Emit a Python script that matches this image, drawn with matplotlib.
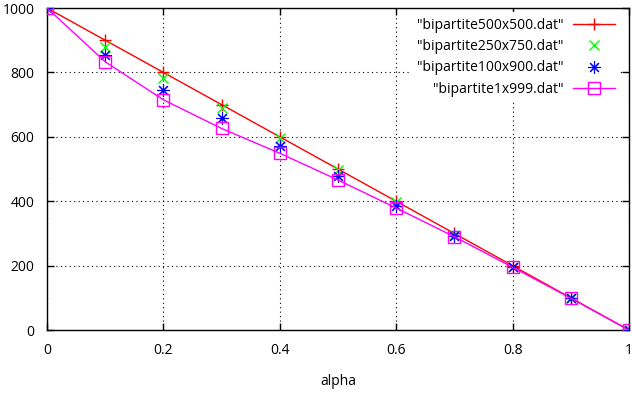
import matplotlib
matplotlib.use("Agg")
import matplotlib.pyplot as plt

# Data.
alpha = [0.0, 0.1, 0.2, 0.3, 0.4, 0.5, 0.6, 0.7, 0.8, 0.9, 1.0]
b500x500 = [1000, 900, 800, 700, 600, 500, 400, 300, 200, 100, 0]
b250x750 = [1000, 880, 782, 689, 596, 497, 398, 296, 197, 99, 0]
b100x900 = [1000, 853, 745, 658, 573, 478, 385, 293, 196, 99, 0]
b1x999 = [1000, 833, 715, 626, 549, 466, 379, 290, 195, 99, 0]

plt.rcParams.update({
    "font.family": ["Open Sans", "DejaVu Sans"],
    "font.size": 10,
})

fig = plt.figure(figsize=(6.32, 3.93), dpi=100)
ax = fig.add_axes([0.0744, 0.160, 0.9209, 0.8196])

ax.plot(alpha, b500x500, color="#ff0000", lw=1, marker="+", ms=9, mew=1,
        label='"bipartite500x500.dat"', zorder=3)
ax.plot(alpha, b250x750, color="#00ff00", lw=0, marker="x", ms=7, mew=1,
        label='"bipartite250x750.dat"', zorder=3)
ax.plot(alpha, b100x900, color="#0000ff", lw=0, marker=(8, 2, 0), ms=9, mew=0.8,
        label='"bipartite100x900.dat"', zorder=3)
ax.plot(alpha, b1x999, color="#ff00ff", lw=1, marker="s", ms=8, mew=1,
        mfc="none", label='"bipartite1x999.dat"', zorder=3)

ax.set_xlim(0, 1)
ax.set_ylim(0, 1000)
ax.set_xticks([0, 0.2, 0.4, 0.6, 0.8, 1])
ax.set_xticklabels(["0", "0.2", "0.4", "0.6", "0.8", "1"])
ax.set_yticks([0, 200, 400, 600, 800, 1000])
ax.tick_params(direction="in", length=5, width=1, top=True, right=True, pad=9)
ax.grid(True, color="black", linestyle=(0, (1, 3)), lw=0.8)
for s in ax.spines.values():
    s.set_linewidth(1)
ax.set_xlabel("alpha", labelpad=12)

leg = ax.legend(loc="upper right", bbox_to_anchor=(0.99, 0.995),
                markerfirst=False, frameon=True,
                handlelength=3.0, handletextpad=0.7, labelspacing=0.45,
                borderaxespad=0.2, fontsize=10)
leg.get_frame().set_edgecolor("none")
leg.get_frame().set_facecolor("white")
leg.get_frame().set_alpha(1)
leg.get_frame().set_boxstyle("square", pad=0)

fig.savefig("out.png", dpi=100)
